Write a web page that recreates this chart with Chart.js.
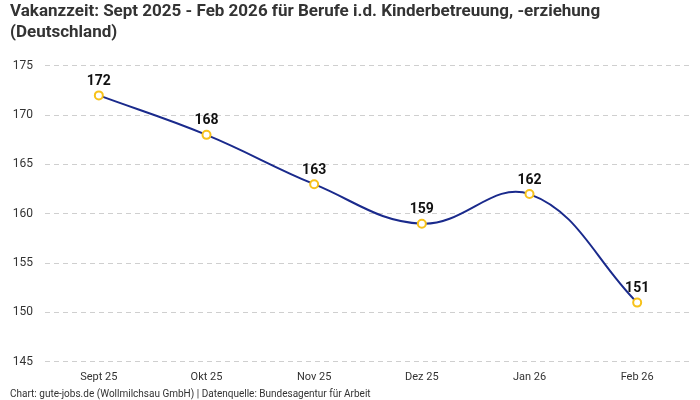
<!DOCTYPE html>
<html lang="de">
  <head>
    <meta charset="UTF-8">
    <title>Vakanzzeit Kinderbetreuung</title>
    <script src="https://cdn.jsdelivr.net/npm/chart.js@4.4.0/dist/chart.umd.min.js"></script>
    <style>
      body { margin: 0; background: #fff; }
      #wrap { width: 700px; height: 400px; position: relative; }
    </style>
  </head>
  <body>
    <div id="wrap"><canvas id="chart"></canvas></div>
    <script>
    const months = ['Sept 25', 'Okt 25', 'Nov 25', 'Dez 25', 'Jan 26', 'Feb 26'];
    const vakanz = [172, 168, 163, 159, 162, 151];
    const yTicks = [145, 150, 155, 160, 165, 170, 175];

    const FONT = 'Roboto, "Noto Sans", sans-serif';

    // value labels above each point
    const pointLabels = {
      id: 'pointLabels',
      afterDatasetsDraw(chart) {
        const ctx = chart.ctx;
        const meta = chart.getDatasetMeta(0);
        ctx.save();
        ctx.font = 'bold 14px ' + FONT;
        ctx.fillStyle = '#111';
        ctx.textAlign = 'center';
        ctx.textBaseline = 'bottom';
        meta.data.forEach((pt, i) => {
          ctx.fillText(vakanz[i], pt.x, pt.y - 7);
        });
        ctx.restore();
      }
    };

    new Chart(document.getElementById('chart'), {
      type: 'line',
      data: {
        labels: months,
        datasets: [{
          data: vakanz,
          borderColor: '#1a2a8c',
          borderWidth: 2,
          tension: 0.4,
          pointRadius: 4,
          pointBorderWidth: 2,
          pointBackgroundColor: '#fff',
          pointBorderColor: '#f7c21b'
        }]
      },
      options: {
        responsive: true,
        maintainAspectRatio: false,
        animation: false,
        layout: { padding: { left: 10, right: 9, top: 2, bottom: 0 } },
        plugins: {
          legend: { display: false },
          tooltip: { enabled: false },
          title: {
            display: true,
            text: ['Vakanzzeit: Sept 2025 - Feb 2026 für Berufe i.d. Kinderbetreuung, -erziehung', '(Deutschland)'],
            align: 'start',
            color: '#333',
            font: { family: FONT, size: 17, weight: 'bold', lineHeight: 1.2 },
            padding: { top: 0, bottom: 23 }
          },
          subtitle: {
            display: true,
            position: 'bottom',
            align: 'start',
            text: 'Chart: gute-jobs.de (Wollmilchsau GmbH) | Datenquelle: Bundesagentur für Arbeit',
            color: '#333',
            font: { family: FONT, size: 10, lineHeight: 1.1 },
            padding: { top: 4, bottom: 0 }
          }
        },
        scales: {
          x: {
            offset: true,
            grid: { display: false },
            border: { display: false },
            ticks: { color: '#333', font: { family: FONT, size: 11 }, padding: 1 }
          },
          y: {
            min: 145,
            max: 175,
            afterBuildTicks(axis) {
              axis.ticks = yTicks.map(v => ({ value: v }));
            },
            afterFit(axis) {
              axis.width = 35;
            },
            grid: { color: '#cfcfcf', drawTicks: false },
            border: { display: false, dash: [5, 4] },
            ticks: { color: '#333', font: { family: FONT, size: 12 }, padding: 12 }
          }
        }
      },
      plugins: [pointLabels]
    });
    </script>
  </body>
</html>
